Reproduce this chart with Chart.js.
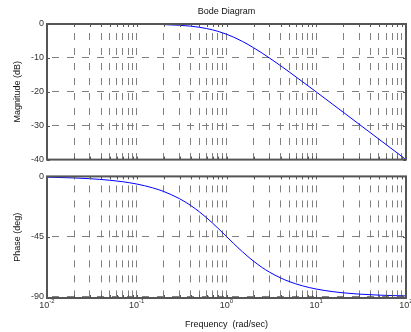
<!DOCTYPE html>
<html>
<head>
<meta charset="utf-8">
<script src="https://cdn.jsdelivr.net/npm/chart.js@4.4.0/dist/chart.umd.min.js"></script>
<style>
  html, body { margin: 0; padding: 0; background: #fff; }
  #wrap { position: relative; width: 411px; height: 332px; }
  canvas { position: absolute; left: 0; }
  #magCanvas { top: 0; }
  #phaseCanvas { top: 168px; }
</style>
</head>
<body>
<div id="wrap">
  <canvas id="magCanvas" width="411" height="168"></canvas>
  <canvas id="phaseCanvas" width="411" height="164"></canvas>
</div>
<script>
// frequency response samples (rad/sec, dB, deg)
const freq = [0.01, 0.02, 0.03, 0.05, 0.07, 0.1, 0.15, 0.2, 0.3, 0.4, 0.5, 0.6, 0.7, 0.8, 1,
  1.2, 1.5, 2, 2.5, 3, 4, 5, 7, 10, 15, 20, 30, 50, 70, 100];
const magnitude = [0, 0, 0, -0.01, -0.02, -0.04, -0.1, -0.17, -0.37, -0.64, -0.97, -1.34, -1.73, -2.15, -3.01,
  -3.87, -5.12, -6.99, -8.6, -10, -12.3, -14.15, -16.99, -20.04, -23.54, -26.03, -29.55, -33.98, -36.9, -40];
const phase = [-0.57, -1.15, -1.72, -2.86, -4, -5.71, -8.53, -11.31, -16.7, -21.8, -26.57, -30.96, -34.99, -38.66, -45,
  -50.19, -56.31, -63.43, -68.2, -71.57, -75.96, -78.69, -81.87, -84.29, -86.19, -87.14, -88.09, -88.85, -89.18, -89.43];

const decades = [0.01, 0.1, 1, 10, 100];
const decadeExp = ['-2', '-1', '0', '1', '2'];
const phaseTicks = [0, -45, -90];

const FONT = "'Liberation Sans', Arial, sans-serif";
const GRID = '#808080';
const FRAME = '#555555';
const TEXT = '#333333';
const DASH = [7, 8];

// 1..9 steps inside each decade, for the dashed vertical grid
function logTicks() {
  const out = [];
  for (let d = 0; d < decades.length - 1; d++) {
    for (let k = 1; k < 10; k++) out.push({ value: decades[d] * k });
  }
  out.push({ value: decades[decades.length - 1] });
  return out;
}

// axes box with small inward tick marks
const framePlugin = {
  id: 'frame',
  afterDraw(chart) {
    const { ctx, chartArea: a, scales } = chart;
    ctx.save();
    ctx.strokeStyle = FRAME;
    ctx.lineWidth = 1;
    ctx.beginPath();
    scales.x.ticks.forEach(t => {
      const px = Math.round(scales.x.getPixelForValue(t.value)) + 0.5;
      ctx.moveTo(px, a.top); ctx.lineTo(px, a.top + 3);
      ctx.moveTo(px, a.bottom); ctx.lineTo(px, a.bottom - 3);
    });
    scales.y.ticks.forEach(t => {
      const py = Math.round(scales.y.getPixelForValue(t.value)) + 0.5;
      ctx.moveTo(a.left, py); ctx.lineTo(a.left + 3, py);
      ctx.moveTo(a.right, py); ctx.lineTo(a.right - 3, py);
    });
    ctx.stroke();
    ctx.lineWidth = 2;
    ctx.strokeRect(a.left, a.top, a.right - a.left, a.bottom - a.top);
    ctx.restore();
  }
};

// titles drawn at fixed spots
const labelsPlugin = {
  id: 'labels',
  afterDraw(chart, args, opts) {
    const { ctx, chartArea: a, scales } = chart;
    ctx.save();
    ctx.fillStyle = '#111';
    ctx.textBaseline = 'middle';
    ctx.textAlign = 'center';
    if (opts.title) {
      ctx.font = '9px ' + FONT;
      ctx.fillText(opts.title, (a.left + a.right) / 2, 12);
    }
    if (opts.yTitle) {
      ctx.save();
      ctx.translate(18, (a.top + a.bottom) / 2);
      ctx.rotate(-Math.PI / 2);
      ctx.font = '9px ' + FONT;
      ctx.fillText(opts.yTitle, 0, 0);
      ctx.restore();
    }
    if (opts.xLabels) {
      ctx.fillStyle = TEXT;
      ctx.textAlign = 'left';
      ctx.textBaseline = 'alphabetic';
      decades.forEach((d, i) => {
        const px = scales.x.getPixelForValue(d);
        ctx.font = '9px ' + FONT;
        const w1 = ctx.measureText('10').width;
        ctx.font = '6px ' + FONT;
        const w2 = ctx.measureText(decadeExp[i]).width;
        const x0 = px - (w1 + w2) / 2;
        ctx.font = '9px ' + FONT;
        ctx.fillText('10', x0, a.bottom + 10);
        ctx.font = '6px ' + FONT;
        ctx.fillText(decadeExp[i], x0 + w1, a.bottom + 5);
      });
    }
    if (opts.xTitle) {
      ctx.fillStyle = '#111';
      ctx.textAlign = 'center';
      ctx.textBaseline = 'middle';
      ctx.font = '9px ' + FONT;
      ctx.fillText(opts.xTitle, (a.left + a.right) / 2, a.bottom + 27);
    }
    ctx.restore();
  }
};

function xScale(height) {
  return {
    type: 'logarithmic',
    min: 0.01,
    max: 100,
    afterBuildTicks(scale) { scale.ticks = logTicks(); },
    afterFit(scale) { scale.height = height; },
    ticks: { display: false, autoSkip: false },
    grid: { color: GRID, lineWidth: 1, drawTicks: false },
    border: { display: false, dash: DASH, dashOffset: 6 }
  };
}

function yGrid() {
  return { color: GRID, lineWidth: 1, drawTicks: false };
}

const magChart = new Chart(document.getElementById('magCanvas').getContext('2d'), {
  type: 'line',
  data: {
    datasets: [{
      data: freq.map((f, i) => ({ x: f, y: magnitude[i] })),
      borderColor: '#0000ff',
      borderWidth: 1,
      pointRadius: 0,
      cubicInterpolationMode: 'monotone',
      fill: false
    }]
  },
  options: {
    responsive: false,
    animation: false,
    layout: { padding: { top: 24, right: 5, left: 0, bottom: 0 } },
    plugins: {
      legend: { display: false },
      tooltip: { enabled: false },
      labels: { title: 'Bode Diagram', yTitle: 'Magnitude (dB)' }
    },
    scales: {
      x: xScale(5),
      y: {
        min: -40,
        max: 0,
        afterFit(scale) { scale.width = 47; },
        ticks: { stepSize: 10, padding: 3, color: TEXT, font: { family: FONT, size: 9 } },
        grid: yGrid(),
        border: { display: false, dash: DASH, dashOffset: 10 }
      }
    }
  },
  plugins: [framePlugin, labelsPlugin]
});

const phaseChart = new Chart(document.getElementById('phaseCanvas').getContext('2d'), {
  type: 'line',
  data: {
    datasets: [{
      data: freq.map((f, i) => ({ x: f, y: phase[i] })),
      borderColor: '#0000ff',
      borderWidth: 1,
      pointRadius: 0,
      cubicInterpolationMode: 'monotone',
      fill: false
    }]
  },
  options: {
    responsive: false,
    animation: false,
    layout: { padding: { top: 7, right: 5, left: 0, bottom: 0 } },
    plugins: {
      legend: { display: false },
      tooltip: { enabled: false },
      labels: { yTitle: 'Phase (deg)', xLabels: true, xTitle: 'Frequency  (rad/sec)' }
    },
    scales: {
      x: xScale(34),
      y: {
        min: -91,
        max: 0,
        afterBuildTicks(scale) { scale.ticks = phaseTicks.map(v => ({ value: v })); },
        afterFit(scale) { scale.width = 47; },
        ticks: { padding: 3, color: TEXT, font: { family: FONT, size: 9 } },
        grid: yGrid(),
        border: { display: false, dash: DASH, dashOffset: 10 }
      }
    }
  },
  plugins: [framePlugin, labelsPlugin]
});
</script>
</body>
</html>
